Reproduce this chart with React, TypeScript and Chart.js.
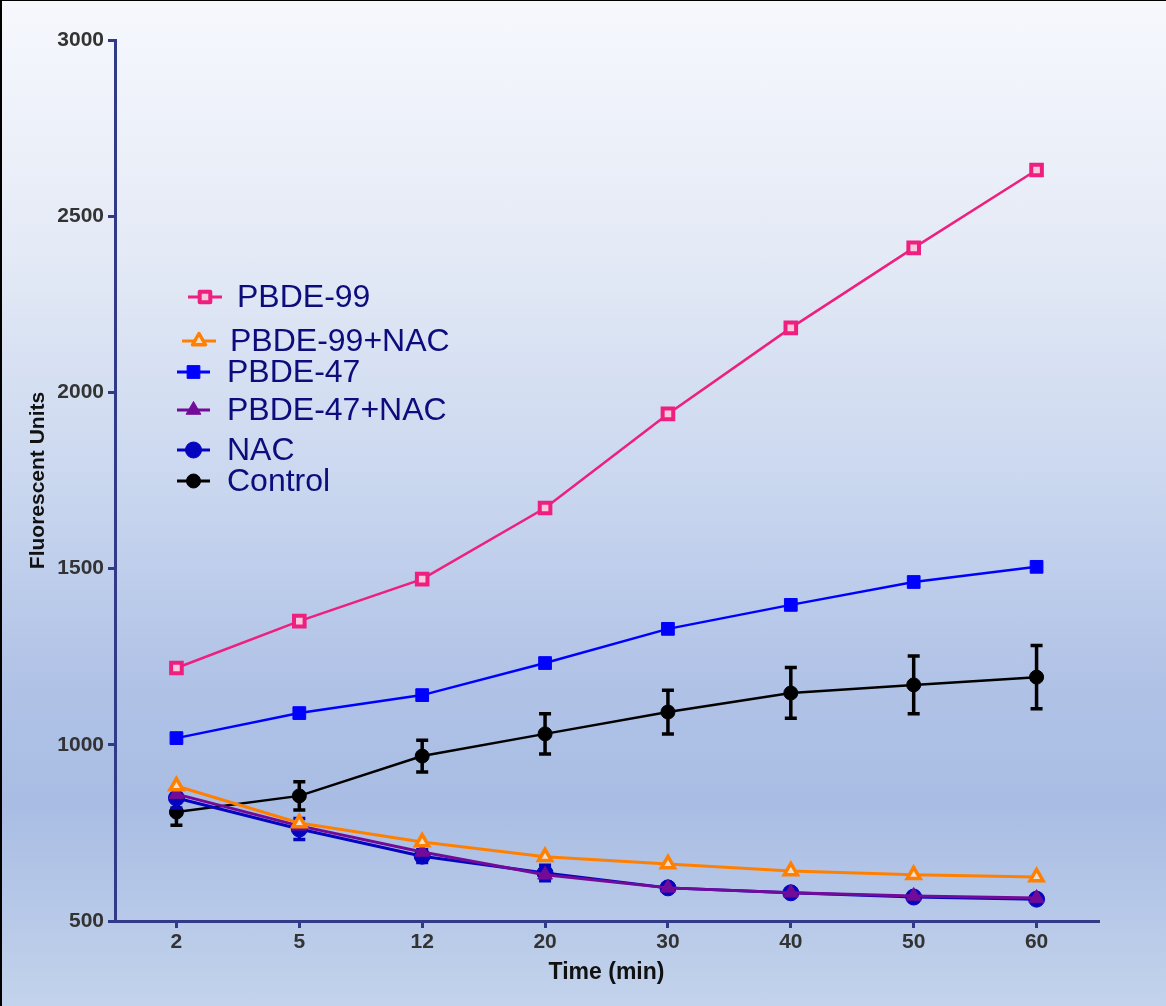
import React, { useEffect, useRef } from 'react';
import { Chart, registerables } from 'chart.js';

Chart.register(...registerables);

// ---- data ----
const timeLabels = ['2', '5', '12', '20', '30', '40', '50', '60'];
const pbde99 = [1218, 1351, 1470, 1672, 1939, 2183, 2410, 2631];
const pbde99Nac = [883, 778, 724, 682, 662, 642, 631, 625];
const pbde47 = [1019, 1090, 1141, 1232, 1329, 1397, 1462, 1505];
const pbde47Nac = [860, 770, 696, 631, 594, 580, 571, 565];
const nac = [849, 761, 684, 636, 594, 580, 568, 562];
const nacErr = [28, 30, 18, 22, 12, 10, 10, 8];
const control = [809, 855, 968, 1031, 1093, 1147, 1170, 1192];
const controlErr = [37, 40, 45, 57, 62, 72, 82, 90];
const yMin = 500;
const yMax = 3000;
const yStep = 500;

const FONT = '"Liberation Sans", Arial, sans-serif';
const AXIS = '#313a86';

function drawMarker(ctx: CanvasRenderingContext2D, style: string, x: number, y: number, r: number, fill: string, stroke: string, bw: number) {
  ctx.save();
  ctx.beginPath();
  if (style === 'rect') {
    const s = Math.SQRT1_2 * r;
    ctx.rect(x - s, y - s, 2 * s, 2 * s);
  } else if (style === 'triangle') {
    ctx.moveTo(x, y - r);
    ctx.lineTo(x + 0.866 * r, y + 0.5 * r);
    ctx.lineTo(x - 0.866 * r, y + 0.5 * r);
    ctx.closePath();
  } else {
    ctx.arc(x, y, r, 0, Math.PI * 2);
  }
  ctx.fillStyle = fill;
  ctx.fill();
  ctx.lineWidth = bw;
  ctx.strokeStyle = stroke;
  ctx.lineJoin = 'round';
  ctx.stroke();
  ctx.restore();
}

const errorBarPlugin = {
  id: 'errorBars',
  afterDatasetDraw(chart: any, args: any) {
    const ds = chart.data.datasets[args.index];
    if (!ds.errors) return;
    const yS = chart.scales.y;
    const ctx = chart.ctx;
    ctx.save();
    ctx.strokeStyle = ds.errorColor;
    ctx.lineWidth = 3.5;
    args.meta.data.forEach((pt: any, i: number) => {
      const e = ds.errors[i];
      if (!e) return;
      const x = pt.x;
      const yt = yS.getPixelForValue(ds.data[i] + e);
      const yb = yS.getPixelForValue(ds.data[i] - e);
      ctx.beginPath();
      ctx.moveTo(x, yt);
      ctx.lineTo(x, yb);
      ctx.moveTo(x - 6, yt);
      ctx.lineTo(x + 6, yt);
      ctx.moveTo(x - 6, yb);
      ctx.lineTo(x + 6, yb);
      ctx.stroke();
    });
    ctx.restore();
  },
};

// legend layout (line start, line end, y, text x)
const legendLayout = [
  { x1: 188, x2: 222, y: 297, tx: 237 },
  { x1: 182, x2: 216, y: 341, tx: 230 },
  { x1: 177, x2: 210, y: 372, tx: 227 },
  { x1: 177, x2: 210, y: 410, tx: 227 },
  { x1: 177, x2: 210, y: 450, tx: 227 },
  { x1: 177, x2: 210, y: 481, tx: 227 },
];

const legendPlugin = {
  id: 'customLegend',
  afterDraw(chart: any) {
    const ctx = chart.ctx;
    chart.data.datasets.forEach((ds: any, i: number) => {
      const L = legendLayout[i];
      if (!L) return;
      ctx.save();
      ctx.strokeStyle = ds.borderColor;
      ctx.lineWidth = 3;
      ctx.beginPath();
      ctx.moveTo(L.x1, L.y);
      ctx.lineTo(L.x2, L.y);
      ctx.stroke();
      ctx.restore();
      drawMarker(ctx, ds.pointStyle, (L.x1 + L.x2) / 2, L.y, ds.pointRadius, ds.pointBackgroundColor, ds.pointBorderColor, ds.pointBorderWidth);
      ctx.save();
      ctx.fillStyle = '#0c0c7c';
      ctx.font = `32px ${FONT}`;
      ctx.textBaseline = 'middle';
      ctx.textAlign = 'left';
      ctx.fillText(ds.label, L.tx, L.y + 1);
      ctx.restore();
    });
  },
};

export default function App() {
  const ref = useRef<HTMLCanvasElement>(null);

  useEffect(() => {
    document.body.style.margin = '0';
    const canvas = ref.current;
    if (!canvas) return;
    const mk = (label: string, data: number[], color: string, style: string, r: number, fill: string, bw: number, lw: number, extra: any = {}) => ({
      label,
      data,
      borderColor: color,
      backgroundColor: color,
      borderWidth: lw,
      pointStyle: style,
      pointRadius: r,
      pointBackgroundColor: fill,
      pointBorderColor: color,
      pointBorderWidth: bw,
      tension: 0,
      fill: false,
      ...extra,
    });
    const chart = new Chart(canvas, {
      type: 'line',
      data: {
        labels: timeLabels,
        datasets: [
          mk('PBDE-99', pbde99, '#ee1f7e', 'rect', 7.5, '#f6c9dd', 4, 2.5),
          mk('PBDE-99+NAC', pbde99Nac, '#ff8000', 'triangle', 7.5, '#f3dfcf', 3.5, 3),
          mk('PBDE-47', pbde47, '#0000ff', 'rect', 9, '#0000ff', 1, 2.5),
          mk('PBDE-47+NAC', pbde47Nac, '#720c98', 'triangle', 8.5, '#720c98', 1, 3),
          mk('NAC', nac, '#0505c0', 'circle', 8, '#0505c0', 1, 3, { errors: nacErr, errorColor: '#0505c0' }),
          mk('Control', control, '#000000', 'circle', 7, '#000000', 1, 2.5, { errors: controlErr, errorColor: '#000000' }),
        ] as any,
      },
      options: {
        animation: false,
        responsive: true,
        maintainAspectRatio: false,
        layout: { padding: { top: 40, right: 68, left: 0, bottom: 0 } },
        plugins: {
          legend: { display: false },
          tooltip: { enabled: false },
        },
        scales: {
          x: {
            type: 'category',
            offset: true,
            grid: {
              display: true,
              drawOnChartArea: false,
              drawTicks: true,
              tickLength: 7,
              color: AXIS,
              lineWidth: 3,
              offset: false,
            },
            border: { display: true, color: AXIS, width: 3 },
            ticks: {
              color: '#333333',
              font: { family: FONT, size: 21, weight: 'bold' },
              padding: 2,
              maxRotation: 0,
            },
            title: {
              display: true,
              text: 'Time (min)',
              color: '#111111',
              font: { family: FONT, size: 23, weight: 'bold' },
              padding: { top: 0, bottom: 20 },
            },
            afterFit: (s: any) => {
              s.height = 85;
            },
          },
          y: {
            type: 'linear',
            min: yMin,
            max: yMax,
            grid: {
              display: true,
              drawOnChartArea: false,
              drawTicks: true,
              tickLength: 7,
              color: AXIS,
              lineWidth: 3,
            },
            border: { display: true, color: AXIS, width: 3 },
            ticks: {
              stepSize: yStep,
              color: '#333333',
              font: { family: FONT, size: 21, weight: 'bold' },
              padding: 4,
              callback: (v: any) => String(v),
            },
            title: {
              display: true,
              text: 'Fluorescent Units',
              color: '#111111',
              font: { family: FONT, size: 21, weight: 'bold' },
              padding: { top: 26, bottom: 0 },
            },
            afterFit: (s: any) => {
              s.width = 115;
            },
          },
        },
      } as any,
      plugins: [errorBarPlugin, legendPlugin],
    });
    return () => chart.destroy();
  }, []);

  return (
    <div
      style={{
        position: 'relative',
        width: 1166,
        height: 1006,
        background:
          'linear-gradient(to bottom, #f6f8fd 0%, #e4eaf6 25%, #cad7ef 48%, #b0c2e6 68%, #a9bde4 80%, #b6c8e8 90%, #c3d3ec 100%)',
        overflow: 'hidden',
      }}
    >
      <canvas ref={ref} style={{ position: 'absolute', left: 0, top: 0 }} />
      <div style={{ position: 'absolute', left: 0, top: 0, width: 1166, height: 1, background: '#000' }} />
      <div style={{ position: 'absolute', left: 0, top: 0, width: 2, height: 1006, background: '#000' }} />
    </div>
  );
}
